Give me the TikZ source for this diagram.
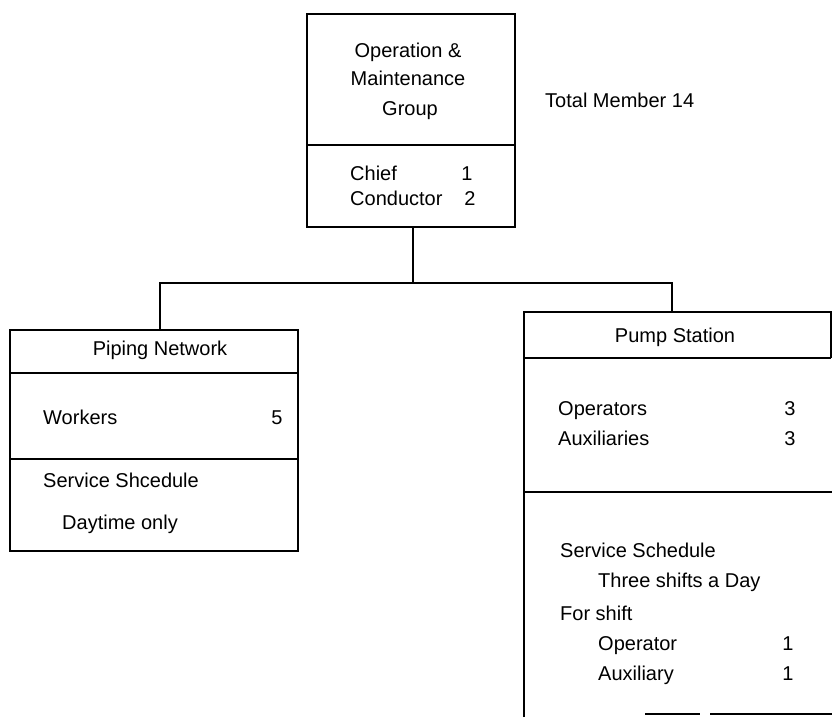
\documentclass[tikz,border=0pt]{standalone}
\usepackage{fontspec}
\setmainfont{Liberation Sans}
\begin{document}
\begin{tikzpicture}[x=1pt,y=-1pt,
  line/.style={line width=1.6pt, black},
  boxframe/.style={draw, line width=1.6pt, inner sep=0pt, outer sep=0pt},
  txt/.style={font=\fontsize{20pt}{24pt}\selectfont, inner sep=0pt, anchor=base west},
  ctxt/.style={font=\fontsize{20pt}{24pt}\selectfont, inner sep=0pt, anchor=base},
]
\useasboundingbox (0,0) rectangle (832,717);

% ---- top box ----
\node[boxframe, minimum width=208pt, minimum height=213pt, anchor=north west] (top) at (307,14) {};
\draw[line] (top.west |- 0,145) -- (top.east |- 0,145);
\node[ctxt] (t1) at (408,57) {Operation \&};
\node[ctxt] (t2) at (408,85) {Maintenance};
\node[ctxt] (t3) at (410,115) {Group};
\node[txt] (chief) at (350,180) {Chief};
\node[ctxt] (chiefn) at (467,180) {1};
\node[txt] (cond) at (350,205) {Conductor};
\node[ctxt] (condn) at (470,205) {2};
\node[txt] (total) at (545,107) {Total Member 14};

% ---- piping box ----
\node[boxframe, minimum width=288pt, minimum height=221pt, anchor=north west] (pipe) at (10,330) {};
\draw[line] (pipe.west |- 0,373) -- (pipe.east |- 0,373);
\draw[line] (pipe.west |- 0,459) -- (pipe.east |- 0,459);
\node[ctxt] (pipename) at (160,355) {Piping Network};
\node[txt] (workers) at (43,424) {Workers};
\node[ctxt] (workersn) at (277,424) {5};
\node[txt] (pserv) at (43,487) {Service Shcedule};
\node[txt] (pday) at (62,529) {Daytime only};

% ---- pump box (runs off the picture) ----
\coordinate (pumpTL) at (524,312);
\coordinate (pumpTR) at (831,312);
\coordinate (pumpHL) at (524,358);
\coordinate (pumpHR) at (831,358);
\coordinate (pumpBL) at (524,717);
\draw[line] (pumpBL) -- (pumpTL) -- (pumpTR) -- (pumpHR);
\draw[line] (pumpHL) -- (pumpHR);
\draw[line] (524,492) -- (832,492);
\draw[line] (645,714) -- (700,714);
\draw[line] (710,714) -- (832,714);
\node[ctxt] (pumpname) at (675,342) {Pump Station};
\node[txt] (ops) at (558,415) {Operators};
\node[ctxt] (opsn) at (790,415) {3};
\node[txt] (aux) at (558,445) {Auxiliaries};
\node[ctxt] (auxn) at (790,445) {3};
\node[txt] (sserv) at (560,557) {Service Schedule};
\node[txt] (three) at (598,587) {Three shifts a Day};
\node[txt] (forshift) at (560,620) {For shift};
\node[txt] (op1) at (598,650) {Operator};
\node[ctxt] (op1n) at (788,650) {1};
\node[txt] (aux1) at (598,680) {Auxiliary};
\node[ctxt] (aux1n) at (788,680) {1};

% ---- connectors ----
\coordinate (bus) at (413,283);
\coordinate (pipeIn) at (160,330);
\coordinate (pumpIn) at (672,312);
\draw[line] (top.south -| bus) -- (bus);
\draw[line] (bus) -| (pipeIn);
\draw[line] (bus) -| (pumpIn);
\end{tikzpicture}
\end{document}
